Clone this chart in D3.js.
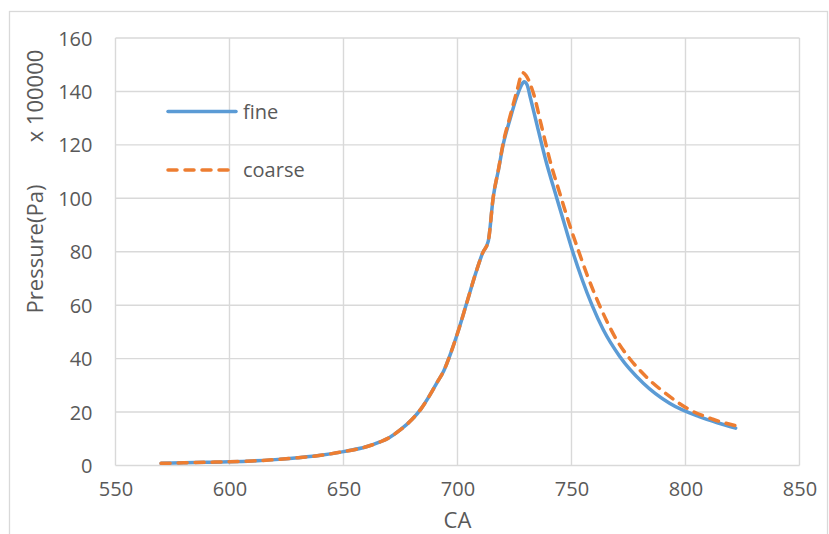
<!DOCTYPE html>
<html>
<head>
<meta charset="utf-8">
<script src="https://cdn.jsdelivr.net/npm/d3@7"></script>
<style>
  html, body { margin: 0; padding: 0; background: #fff; }
  svg { display: block; font-family: "Open Sans", "Liberation Sans", sans-serif; }
</style>
</head>
<body>
<svg id="chart" width="829" height="534"></svg>
<script>
// Crank angle (CA) and cylinder pressure (Pa / 100000) for two mesh resolutions
const fineCA = [570, 580, 590, 600, 610, 620, 630, 640, 650, 660, 666, 670, 675, 680, 684, 688, 691, 694, 697, 700, 704, 708, 711, 713.5, 715.7, 718, 720, 723, 726, 728, 729.2, 730.5, 732, 735, 739, 742, 746, 750, 754.5, 759, 764, 771, 781.5, 793, 806, 814, 822];
const fineP  = [0.8, 1.0, 1.2, 1.4, 1.7, 2.2, 2.9, 3.8, 5.2, 7.0, 8.8, 10.4, 13.4, 17.2, 21.2, 26.5, 31, 35.5, 42, 49.5, 60.7, 72, 79.5, 84, 100.6, 110.8, 120, 129.5, 138, 142.3, 143.6, 142.5, 137.5, 127, 113.3, 104.5, 93, 81.5, 70, 60, 50.7, 41, 30.8, 23.3, 18.3, 16, 14];

const coarseCA = [570, 580, 590, 600, 610, 620, 630, 640, 650, 660, 666, 670, 675, 680, 684, 688, 691, 694, 697, 700, 704, 708, 711, 713.5, 715.7, 718, 720, 723, 726, 728.6, 730, 733.3, 737, 740.6, 745, 749, 753, 757, 761, 765.5, 769.8, 776, 783, 792, 802, 812, 822.4];
const coarseP  = [0.8, 1.0, 1.2, 1.4, 1.7, 2.2, 2.9, 3.8, 5.2, 7.0, 8.8, 10.4, 13.4, 17.2, 21.2, 26.5, 31, 35.5, 42, 49.5, 60.7, 72, 79.5, 84, 100.6, 111, 120.5, 130.5, 140, 147, 146, 139.3, 126.5, 114, 101.5, 90.5, 80.5, 71, 62.5, 54, 47, 39.5, 33, 26.5, 20.8, 17.3, 14.8];

const xTicks = [550, 600, 650, 700, 750, 800, 850];
const yTicks = [0, 20, 40, 60, 80, 100, 120, 140, 160];
const seriesNames = ["fine", "coarse"];

const svg = d3.select("#chart");
const grid = "#d9d9d9";
const textColor = "#595959";

// outer chart frame
svg.append("rect")
  .attr("x", 9.5).attr("y", 11.5)
  .attr("width", 818).attr("height", 540)
  .attr("fill", "none").attr("stroke", grid).attr("stroke-width", 1.3);

const x = d3.scaleLinear().domain([550, 850]).range([115.5, 799.5]);
const y = d3.scaleLinear().domain([0, 160]).range([465.5, 38]);

// gridlines
svg.append("g").selectAll("line.v").data(xTicks).join("line")
  .attr("x1", d => x(d)).attr("x2", d => x(d))
  .attr("y1", y(160)).attr("y2", y(0))
  .attr("stroke", grid).attr("stroke-width", 1.4);
svg.append("g").selectAll("line.h").data(yTicks).join("line")
  .attr("x1", x(550)).attr("x2", x(850))
  .attr("y1", d => y(d)).attr("y2", d => y(d))
  .attr("stroke", grid).attr("stroke-width", 1.4);

// axes (labels only; lines come from the grid)
const xAxis = svg.append("g")
  .attr("transform", `translate(0,${y(0)})`)
  .call(d3.axisBottom(x).tickValues(xTicks).tickSize(0).tickPadding(16).tickFormat(d3.format("d")));
const yAxis = svg.append("g")
  .attr("transform", `translate(${x(550)},0)`)
  .call(d3.axisLeft(y).tickValues(yTicks).tickSize(0).tickPadding(23).tickFormat(d3.format("d")));
[xAxis, yAxis].forEach(g => {
  g.select(".domain").remove();
  g.selectAll("text")
    .attr("fill", textColor)
    .style("font-size", "20px")
    .style("font-family", "'Open Sans', sans-serif");
});
yAxis.selectAll("text").attr("dy", "0.35em");

// series lines
const line = d3.line()
  .x(d => x(d[0]))
  .y(d => y(d[1]))
  .curve(d3.curveMonotoneX);

const fineData = d3.zip(fineCA, fineP);
const coarseData = d3.zip(coarseCA, coarseP);

svg.append("path")
  .datum(fineData)
  .attr("d", line)
  .attr("fill", "none")
  .attr("stroke", "#5b9bd5")
  .attr("stroke-width", 3.5)
  .attr("stroke-linecap", "round")
  .attr("stroke-linejoin", "round");

svg.append("path")
  .datum(coarseData)
  .attr("d", line)
  .attr("fill", "none")
  .attr("stroke", "#ed7d31")
  .attr("stroke-width", 3.5)
  .attr("stroke-dasharray", "9,8")
  .attr("stroke-linecap", "round")
  .attr("stroke-linejoin", "round");

// legend
const legend = svg.append("g");
const legendRows = [
  { name: seriesNames[0], color: "#5b9bd5", dash: null, y: 111.5 },
  { name: seriesNames[1], color: "#ed7d31", dash: "9,8", y: 170 }
];
legendRows.forEach(r => {
  legend.append("line")
    .attr("x1", 168).attr("x2", 236)
    .attr("y1", r.y).attr("y2", r.y)
    .attr("stroke", r.color).attr("stroke-width", 3.5)
    .attr("stroke-linecap", "round")
    .attr("stroke-dasharray", r.dash);
  legend.append("text")
    .attr("x", 243).attr("y", r.y)
    .attr("dy", "0.35em")
    .attr("fill", textColor)
    .style("font-size", "20px")
    .text(r.name);
});

// axis titles
svg.append("text")
  .attr("x", x(700)).attr("y", 528)
  .attr("text-anchor", "middle")
  .attr("fill", textColor)
  .style("font-size", "22px")
  .text("CA");

svg.append("text")
  .attr("transform", "translate(35,249) rotate(-90)")
  .attr("text-anchor", "middle")
  .attr("dy", "0.35em")
  .attr("fill", textColor)
  .style("font-size", "22px")
  .text("Pressure(Pa)");

svg.append("text")
  .attr("transform", "translate(35,96) rotate(-90)")
  .attr("text-anchor", "middle")
  .attr("dy", "0.35em")
  .attr("fill", textColor)
  .style("font-size", "22px")
  .text("x 100000");
</script>
</body>
</html>
